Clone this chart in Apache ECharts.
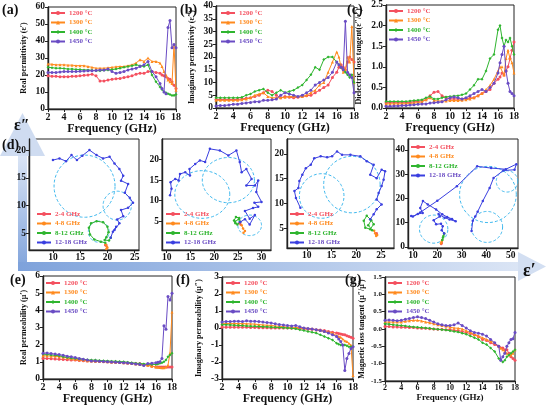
<!DOCTYPE html>
<html>
<head>
<meta charset="utf-8">
<script src="https://cdn.jsdelivr.net/npm/echarts@6/dist/echarts.min.js"></script>
<style>
html,body{margin:0;padding:0;background:#fff;}
#main{width:546px;height:407px;}
</style>
</head>
<body>
<div id="main"></div>
<script>
// frequency points (GHz), finer at the top end where the curves jump
const FREQ = [2,2.5,3,3.5,4,4.5,5,5.5,6,6.5,7,7.5,8,8.5,9,9.5,10,10.5,11,11.5,12,12.5,13,13.5,14,14.5,15,15.5,16,16.25,16.5,16.75,17,17.25,17.5,17.75,18];
const TEMPS = ['1200 °C','1300 °C','1400 °C','1450 °C'];
const BANDS = ['2-4 GHz','4-8 GHz','8-12 GHz','12-18 GHz'];

// (a) real permittivity
const EPS1_1200 = [19.5,19.3,19.2,19,19,19,19.2,19.3,19.5,19.8,20,20.5,19.5,16.5,16.5,17,17.5,17.8,18,18.5,19,19.5,20.5,21,21,22,22,21.5,21,20,19.5,19,18,17.5,16,14,12];
const EPS1_1300 = [26.5,26.3,26,26,26,25.8,25.8,25.5,25.5,25.5,25,24.5,24,24,24,24.2,24.5,24.8,25,25,25.5,26,27,29,28,30,28,28,27,25,22,20,17,16,15,38,11];
const EPS1_1400 = [24.5,24.3,24,24,23.8,23.5,23.5,23.3,23.2,23,23,22.8,22.5,22.5,22.8,23,23.2,23.5,24,24.5,25,25.5,26,25.5,25,26,20,16,13,11.5,10,9.5,9,8.5,8,8,8.5];
const EPS1_1450 = [21.5,21.5,21.5,21.8,22,22,22,22,22.2,22.3,22.5,22.5,22.7,23,23,23.5,22,21,21.5,22,23,23.5,24,25,26,28,22,19,15,12,10,9,48,52,36,38,36];

// (b) imaginary permittivity
const EPS2_1200 = [3.3,3.3,3.3,3.3,3.3,3.4,3.5,3.8,4,4.5,5,6,7,6.5,5,4,4.5,4.2,4,4.2,4.5,4.8,5,6,7,8,9,12,14,16,17,16,15,18,20,19,18];
const EPS2_1300 = [3,3,3,3,3,3,3.2,3.5,4,5,5.5,6,4.5,4,4,4,4.2,4.5,4.5,4.5,4.5,5,6,7,9,10,14,18,22,20,16,14,15,20,18,32,10];
const EPS2_1400 = [4,4,4,4,4,4,4.2,5,5.5,6.5,7,7.5,6,5,6,7,6,6.5,7,8,9,11,13,16,15,19,20,20,18,17,16,15,14,13,12,13,10];
const EPS2_1450 = [0.8,1,1,1.2,1.5,1.5,1.8,2,2.2,2.5,2.5,3,3,3.2,3.5,5,6,5.5,5,4.5,5,6,7,9,10,11,12,14,18,17,16,15,34,14,13,12,6];

// (c) dielectric loss tangent
const TANE_1200 = [0.13,0.13,0.13,0.13,0.13,0.13,0.14,0.15,0.16,0.18,0.2,0.3,0.38,0.4,0.3,0.25,0.22,0.22,0.22,0.22,0.23,0.24,0.25,0.3,0.35,0.4,0.45,0.6,0.7,0.75,0.85,0.8,0.9,1.0,1.2,1.4,1.6];
const TANE_1300 = [0.1,0.1,0.1,0.1,0.1,0.1,0.11,0.12,0.13,0.15,0.2,0.25,0.18,0.17,0.17,0.17,0.18,0.18,0.18,0.19,0.2,0.22,0.25,0.3,0.35,0.45,0.55,0.7,0.9,1.0,1.0,0.8,1.2,1.4,1.2,1.1,0.85];
const TANE_1400 = [0.16,0.16,0.16,0.16,0.16,0.16,0.17,0.18,0.19,0.2,0.25,0.28,0.22,0.22,0.25,0.27,0.28,0.29,0.3,0.32,0.35,0.45,0.55,0.7,0.7,0.9,1.2,1.3,1.9,2.0,1.7,1.5,1.65,1.6,1.7,1.5,1.3];
const TANE_1450 = [0.04,0.04,0.05,0.05,0.06,0.06,0.07,0.08,0.09,0.1,0.1,0.12,0.13,0.14,0.15,0.2,0.25,0.27,0.25,0.22,0.25,0.3,0.35,0.4,0.45,0.4,0.5,0.6,0.85,1.1,1.3,1.5,0.9,0.6,0.4,0.35,0.3];

// (e) real permeability
const MU1_1200 = [1.2,1.2,1.18,1.16,1.15,1.14,1.12,1.11,1.1,1.08,1.06,1.05,1.05,1.03,1.02,1.01,1.0,0.98,0.97,0.96,0.95,0.93,0.92,0.9,0.9,0.85,0.8,0.75,0.7,0.7,0.7,0.7,0.7,0.7,0.7,0.7,0.7];
const MU1_1300 = [1.35,1.35,1.33,1.32,1.3,1.27,1.22,1.18,1.15,1.12,1.1,1.07,1.05,1.04,1.03,1.02,1.0,0.99,0.98,0.96,0.95,0.93,0.9,0.88,0.85,0.83,0.8,0.75,0.7,0.68,0.67,0.65,0.65,0.7,0.8,1.5,3.9];
const MU1_1400 = [1.45,1.43,1.4,1.38,1.35,1.3,1.25,1.22,1.2,1.17,1.15,1.12,1.1,1.1,1.08,1.06,1.05,1.04,1.03,1.02,1.0,0.98,0.95,0.92,0.9,0.88,0.86,0.85,0.85,0.88,0.92,0.95,1.0,1.1,1.3,1.4,1.5];
const MU1_1450 = [1.5,1.52,1.48,1.45,1.42,1.38,1.33,1.3,1.25,1.2,1.15,1.1,1.05,1.05,1.03,1.02,1.0,0.99,0.98,0.96,0.95,0.93,0.9,0.88,0.85,0.78,0.9,0.92,0.95,0.97,1.0,1.2,3.1,2.9,4.8,4.6,5.0];

// (f) imaginary permeability
const MU2_1200 = [0.05,0.05,0.05,0.05,0.05,0.05,0.04,0.03,0.03,0.02,0.02,0.01,0,0,0,0,0,-0.01,-0.02,-0.03,-0.05,-0.07,-0.08,-0.1,-0.12,-0.15,-0.2,-0.25,-0.3,-0.32,-0.35,-0.38,-0.4,-0.45,-0.5,-0.55,-0.6];
const MU2_1300 = [0.25,0.26,0.27,0.27,0.26,0.26,0.25,0.24,0.23,0.2,0.18,0.16,0.15,0.12,0.1,0.08,0.05,0.04,0.03,0.02,0,-0.02,-0.05,-0.1,-0.15,-0.2,-0.25,-0.3,-0.45,-0.5,-0.55,-0.65,-0.75,-0.8,-0.9,-1.0,-2.8];
const MU2_1400 = [0.2,0.19,0.18,0.16,0.15,0.14,0.12,0.11,0.1,0.09,0.08,0.07,0.05,0.04,0.03,0.02,0,-0.02,-0.05,-0.1,-0.15,-0.2,-0.25,-0.3,-0.4,-0.5,-0.6,-0.7,-0.9,-0.95,-1.0,-1.0,-1.0,-1.05,-1.1,-1.1,-1.1];
const MU2_1450 = [0.35,0.38,0.38,0.4,0.4,0.38,0.42,0.4,0.4,0.38,0.35,0.32,0.3,0.25,0.2,0.18,0.15,0.12,0.15,0.08,0,-0.03,-0.06,-0.1,-0.15,-0.2,-0.3,-0.4,-0.5,-0.65,-0.8,-1.0,-2.5,-1.8,-1.5,-1.2,-1.1];

// (g) magnetic loss tangent
const TANM_1200 = [0.07,0.07,0.06,0.06,0.05,0.05,0.04,0.04,0.03,0.02,0.02,0.01,0,-0.01,-0.01,-0.02,-0.02,-0.04,-0.05,-0.07,-0.1,-0.13,-0.17,-0.22,-0.3,-0.33,-0.4,-0.45,-0.5,-0.55,-0.55,-0.6,-0.6,-0.7,-0.8,-0.85,-0.9];
const TANM_1300 = [0.2,0.2,0.2,0.2,0.2,0.22,0.24,0.25,0.25,0.23,0.2,0.18,0.15,0.12,0.1,0.08,0.05,0.03,0.02,0,-0.05,-0.1,-0.15,-0.2,-0.25,-0.3,-0.35,-0.4,-0.5,-0.55,-0.6,-0.65,-0.7,-0.75,-0.75,-0.7,-0.6];
const TANM_1400 = [0.15,0.14,0.12,0.11,0.1,0.09,0.07,0.06,0.05,0.04,0.03,0.02,0,-0.01,-0.02,-0.03,-0.05,-0.07,-0.09,-0.12,-0.15,-0.2,-0.25,-0.3,-0.4,-0.45,-0.55,-0.65,-0.85,-0.9,-0.95,-0.9,-0.8,-0.75,-0.7,-0.65,-0.6];
const TANM_1450 = [0.25,0.26,0.25,0.24,0.25,0.28,0.3,0.33,0.35,0.33,0.3,0.25,0.2,0.15,0.12,0.1,0.1,0.12,0.17,0.1,0.03,-0.05,-0.1,-0.12,-0.15,-0.2,-0.3,-0.4,-0.5,-0.9,-0.8,-0.7,-0.5,-0.4,-0.3,-0.28,-0.1];

// (d) Cole-Cole curves, [eps', eps''] per frequency band
const CC1_24 = [[19.6,2.9],[19.7,2.8],[19.8,2.9]];
const CC1_48 = [[19.7,3.0],[19.9,2.6],[20.0,2.4],[19.8,2.2]];
const CC1_812 = [[19.6,3.3],[18.8,3.5],[17.6,3.9],[16.8,4.8],[16.6,6.0],[17.0,6.8],[18.0,7.2],[19.2,7.0],[20.0,6.2],[20.2,5.2],[19.8,4.3],[19.5,3.8],[20.3,3.7],[20.6,4.2]];
const CC1_1218 = [[20.6,4.2],[21.0,5.3],[21.6,6.2],[21.3,5.6],[22.2,6.8],[21.8,7.5],[22.9,8.1],[22.5,9.2],[23.8,9.6],[24.7,10.5],[24.1,11.4],[23.2,12.3],[23.8,13.9],[22.5,14.5],[22.9,15.4],[22.2,16.6],[21.3,17.6],[20.4,18.8],[19.2,18.5],[18,19.1],[16.7,20],[15.4,19],[14.4,18.2],[13.4,19.1],[12.4,18],[11.2,18.5],[10,18.2]];
const CC2_24 = [[25.5,4.8],[25.3,4.5],[25.6,4.2]];
const CC2_48 = [[25.8,4.0],[26.1,3.2],[26.5,2.6],[26.2,2.2]];
const CC2_812 = [[24.5,4.5],[24.2,5.2],[24.6,6.0],[25.3,5.8],[25.5,4.8],[24.9,4.2],[24.4,4.9],[25.2,5.5]];
const CC2_1218 = [[25.5,4.8],[26.5,5.5],[27.5,4.2],[28.6,6.5],[27.5,5.6],[26.5,7.5],[28.2,8.2],[29.3,8.5],[28.5,9.5],[30,9.7],[28.9,12.1],[29.3,14.9],[28.6,13.7],[26.8,13.7],[27.9,15.3],[26.8,17.7],[25.8,16.9],[25.4,19.4],[24.7,22.2],[23,21],[21.2,22.2],[19.1,22.6],[18.1,19.4],[17,19.8],[16,18.9],[14.8,17.7],[14.9,16.1],[13.9,16.9],[12.8,16.5],[12.5,14.9],[11.8,15.3],[10.8,14.5],[11,12.9],[10.7,11.3]];
const CC3_24 = [[24,3.8],[24.1,4.0]];
const CC3_48 = [[23.6,4.5],[23.8,4.0],[24.2,3.6],[24.0,3.4]];
const CC3_812 = [[22.8,6.8],[22.1,7.5],[21.5,6.5],[21.8,5.1],[22.8,4.8],[23.5,5.8],[23.0,6.6],[22.4,5.6],[23.2,4.6]];
const CC3_1218 = [[22.8,6.8],[23.5,7.8],[24.1,8.8],[25.1,9.8],[24.1,10.8],[24.5,12.1],[25.1,13.5],[25.5,14.8],[25.8,16.5],[25.1,16.8],[24.1,15.1],[22.8,15.8],[23.5,17.8],[22.1,18.5],[20.8,19.5],[18.8,19.8],[17.1,19.8],[16.1,20.5],[15.1,19.5],[14.1,19.3],[12.8,19.5],[11.5,19.1],[10.8,17.8],[9.8,17.1],[9.1,15.8],[8.5,14.5],[8.3,13.1],[7.5,12.5],[7.8,11.1],[8.7,9.1]];
const CC4_24 = [[21.6,1.2],[21.8,1.6]];
const CC4_48 = [[21.5,1.5],[21.8,2.2],[22.0,2.8]];
const CC4_812 = [[22.0,2.8],[22.3,3.8],[22.5,4.5],[22.8,5.5]];
const CC4_1218 = [[22.8,5.5],[21.8,6.8],[22.2,8.5],[21.5,9.5],[19.5,9.3],[18.5,11],[21,12.5],[20.5,13.5],[23,12],[25,11.3],[27.5,10.5],[26,11.5],[24,12.3],[22,13.4],[19.5,15.4],[16.1,17.5],[14.1,18.9],[13,16],[14,14],[12,13.5],[10,12.5],[9.3,12.7],[13,14.2],[20,19],[28,25],[36.3,33.2],[42,32.5],[48,32],[52.3,34.1],[51.6,31.8],[47,31.5],[43,28.4],[41.4,24.3],[38.6,18.9],[36.5,14.5],[35.5,12.5],[34.5,10.7],[34,6.5]];

// dashed semicircle fits: [centre eps', centre eps'', radius]
const CIRC1 = [[15.8,13.5,5.6],[21.8,10,2.6],[18.4,5.3,1.9]];
const CIRC2 = [[17.5,11.5,5.8],[23,15,5.5],[27.5,4,2.5]];
const CIRC3 = [[19.1,13.8,5.7],[13,11.5,4.5]];
const CIRC4 = [[40.7,21.6,11.6],[40.3,8.2,6.4],[48.5,27,4.4],[18.5,7.3,5.8]];

const SERIF = '"Liberation Serif","DejaVu Serif",serif';
const INK = '#111';
const T_COLORS = ['#f4505f','#ff8a1e','#2fb52f','#6a4cc4'];
const T_SYMBOLS = ['circle','triangle','diamond','circle'];
const B_COLORS = ['#f4505f','#ff8a1e','#2fb52f','#3a3fe0'];
const B_TEXT = ['#f4505f','#ff8a1e','#2fb52f','#6a4cc4'];

const chart = echarts.init(document.getElementById('main'), null, {renderer:'canvas'});

// plot boxes: [left, top, width, height]
const BOXES = [
  [48,7,128,102],   // a
  [216,6,138,102],  // b
  [386,5,128,103],  // c
  [29,139,110,111], // d1
  [162,139,109,111],// d2
  [287,139,107,109],// d3
  [408,139,110,109],// d4
  [43,276,129,103], // e
  [222,277,131,102],// f
  [385,277,130,104] // g
];

const grids = BOXES.map(b => ({left:b[0], top:b[1], width:b[2], height:b[3], show:true, borderColor:'#222', borderWidth:1, containLabel:false}));

function labelStyle(size) {
  return {fontFamily:SERIF, fontWeight:'bold', fontSize:size, color:INK, margin:3};
}
function baseAxis(gi, size) {
  return {
    type:'value', gridIndex:gi,
    axisLine:{show:true, onZero:false, lineStyle:{color:'#222', width:1.4}},
    axisTick:{show:true, length:3, lineStyle:{color:'#222'}},
    axisLabel:labelStyle(size),
    splitLine:{show:false}
  };
}
function freqX(gi, nameSize, labelSize, gap) {
  return Object.assign(baseAxis(gi, labelSize), {
    min:2, max:18, interval:2,
    name:'Frequency (GHz)', nameLocation:'middle', nameGap:gap,
    nameTextStyle:{fontFamily:SERIF, fontWeight:'bold', fontSize:nameSize, color:INK}
  });
}
function valY(gi, min, max, interval, name, gap, labelSize, dec) {
  const ax = Object.assign(baseAxis(gi, labelSize), {
    min:min, max:max, interval:interval,
    name:name, nameLocation:'middle', nameGap:gap, nameRotate:90,
    nameTextStyle:{fontFamily:SERIF, fontWeight:'bold', fontSize:8, color:INK}
  });
  if (dec) ax.axisLabel.formatter = v => v.toFixed(dec);
  return ax;
}
function ccAxis(gi, min, max, ticks) {
  const ax = Object.assign(baseAxis(gi, 9.5), {min:min, max:max});
  ax.axisLabel.customValues = ticks;
  ax.axisTick.customValues = ticks;
  return ax;
}

const xAxes = [
  freqX(0,12,10,12), freqX(1,12,10,12), freqX(2,12,10,12),
  ccAxis(3,5.6,25.8,[10,15,20,25]),
  ccAxis(4,9,32,[10,15,20,25,30]),
  ccAxis(5,6,27.6,[10,15,20,25]),
  ccAxis(6,8,53,[10,20,30,40,50]),
  freqX(7,12,10,13), freqX(8,12,10,13), freqX(9,9,8,11)
];
const yAxes = [
  valY(0,0,60,10,'Real permittivity (ε′)',20,9.5),
  valY(1,0,40,5,'Imaginary permittivity (ε″)',20,9.5),
  valY(2,0,2.5,0.5,'Dielectric loss tangent(ε″/ε′)',23,9.5,1),
  ccAxis(3,2,22,[5,10,15,20]),
  ccAxis(4,-2,25,[5,10,15,20]),
  ccAxis(5,1,23,[5,10,15,20]),
  ccAxis(6,-0.5,44.5,[0,10,20,30,40]),
  valY(7,0,6,1,'Real permeability (μ′)',15,9.5),
  valY(8,-3,3,1,'Imaginary permeability (μ″)',19,9.5),
  valY(9,-1.5,1.5,0.5,'Magnetic loss tangent (μ″/μ′)',19,7,1)
];

const series = [];
function addFreqPanel(gi, sets) {
  sets.forEach((vals, k) => {
    series.push({
      type:'line', name:TEMPS[k], xAxisIndex:gi, yAxisIndex:gi,
      data:FREQ.map((f, i) => [f, vals[i]]),
      symbol:T_SYMBOLS[k], symbolSize:3, showSymbol:true,
      lineStyle:{width:1, color:T_COLORS[k]}, itemStyle:{color:T_COLORS[k]},
      z:3 + k, animation:false
    });
  });
}
addFreqPanel(0, [EPS1_1200, EPS1_1300, EPS1_1400, EPS1_1450]);
addFreqPanel(1, [EPS2_1200, EPS2_1300, EPS2_1400, EPS2_1450]);
addFreqPanel(2, [TANE_1200, TANE_1300, TANE_1400, TANE_1450]);
addFreqPanel(7, [MU1_1200, MU1_1300, MU1_1400, MU1_1450]);
addFreqPanel(8, [MU2_1200, MU2_1300, MU2_1400, MU2_1450]);
addFreqPanel(9, [TANM_1200, TANM_1300, TANM_1400, TANM_1450]);

function addCirclePanel(gi, circles) {
  series.push({
    type:'custom', xAxisIndex:gi, yAxisIndex:gi, data:circles, silent:true, z:2, animation:false,
    renderItem: function (params, api) {
      const cx = api.value(0), cy = api.value(1), r = api.value(2);
      const pts = [];
      for (let k = 0; k <= 90; k++) {
        const a = k / 90 * Math.PI * 2;
        pts.push(api.coord([cx + r * Math.cos(a), cy + r * Math.sin(a)]));
      }
      return {type:'polyline', shape:{points:pts}, style:{stroke:'#3db8ee', lineWidth:1, lineDash:[3,2], fill:'none'}};
    }
  });
}
function addColePanel(gi, sets, circles) {
  addCirclePanel(gi, circles);
  sets.forEach((pts, k) => {
    series.push({
      type:'line', name:BANDS[k], xAxisIndex:gi, yAxisIndex:gi, data:pts,
      symbol:'circle', symbolSize:2.5, showSymbol:true,
      lineStyle:{width:1, color:B_COLORS[k]}, itemStyle:{color:B_COLORS[k]},
      z:3 + k, animation:false
    });
  });
}
addColePanel(3, [CC1_24, CC1_48, CC1_812, CC1_1218], CIRC1);
addColePanel(4, [CC2_24, CC2_48, CC2_812, CC2_1218], CIRC2);
addColePanel(5, [CC3_24, CC3_48, CC3_812, CC3_1218], CIRC3);
addColePanel(6, [CC4_24, CC4_48, CC4_812, CC4_1218], CIRC4);

function legendAt(left, top, names, colors) {
  return {
    orient:'vertical', left:left, top:top, padding:0, itemGap:1.5,
    itemWidth:14, itemHeight:5, selectedMode:false,
    textStyle:{fontFamily:SERIF, fontWeight:'bold', fontSize:7, lineHeight:8, padding:[0,0,0,-1]},
    data:names.map((n, i) => ({name:n, textStyle:{color:colors[i]}}))
  };
}
const legends = [
  legendAt(50,9,TEMPS,T_COLORS),
  legendAt(220,9,TEMPS,T_COLORS),
  legendAt(388,7,TEMPS,T_COLORS),
  legendAt(36,210,BANDS,B_TEXT),
  legendAt(165,210,BANDS,B_TEXT),
  legendAt(289,210,BANDS,B_TEXT),
  legendAt(410,143,BANDS,B_TEXT),
  legendAt(45,279,TEMPS,T_COLORS),
  legendAt(225,279,TEMPS,T_COLORS),
  legendAt(387,279,TEMPS,T_COLORS)
];

function panelLabel(txt, x, y) {
  return {type:'text', left:x, top:y, z:10,
    style:{text:txt, fontFamily:SERIF, fontWeight:'bold', fontSize:14, fill:INK}};
}
const graphics = [
  // vertical eps'' arrow
  {type:'rect', shape:{x:18, y:150, width:9, height:121}, z:0,
    style:{fill:new echarts.graphic.LinearGradient(0,0,0,1,[{offset:0,color:'#dfe8f6'},{offset:1,color:'#7ea2db'}])}},
  {type:'polygon', shape:{points:[[22.5,113],[0,156],[45,156]]}, z:0, style:{fill:'#cfdcf1'}},
  // horizontal eps' arrow
  {type:'rect', shape:{x:18, y:262, width:502, height:9}, z:0,
    style:{fill:new echarts.graphic.LinearGradient(0,0,1,0,[{offset:0,color:'#7ea2db'},{offset:1,color:'#dbe5f5'}])}},
  {type:'polygon', shape:{points:[[518,252],[546,266.5],[518,281]]}, z:0, style:{fill:'#d3dff2'}},
  {type:'text', left:14, top:118, z:10, style:{text:'ε″', fontFamily:SERIF, fontWeight:'bold', fontSize:16, fill:INK}},
  {type:'text', left:523, top:262, z:10, style:{text:'ε′', fontFamily:SERIF, fontWeight:'bold', fontSize:18, fill:INK}},
  panelLabel('(a)', 2, 3), panelLabel('(b)', 180, 3), panelLabel('(c)', 347, 3),
  panelLabel('(d)', 2, 138), panelLabel('(e)', 10, 273), panelLabel('(f)', 176, 273), panelLabel('(g)', 345, 273)
];

chart.setOption({
  backgroundColor:'#fff',
  animation:false,
  grid:grids,
  xAxis:xAxes,
  yAxis:yAxes,
  legend:legends,
  series:series,
  graphic:graphics
});
</script>
</body>
</html>
